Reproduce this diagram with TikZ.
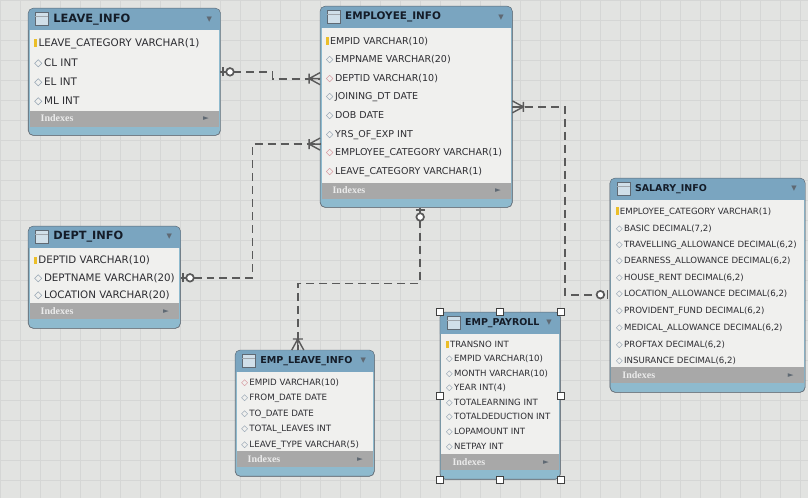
\documentclass[tikz,border=0pt]{standalone}
\usepackage{fontspec}
\setmainfont{DejaVu Sans}
\newfontfamily\idxfont{Liberation Serif}
\usepackage{tikz}
\usetikzlibrary{calc,positioning}

\definecolor{bggray}{RGB}{226,227,225}
\definecolor{gridgray}{RGB}{213,214,213}
\definecolor{headblue}{RGB}{122,165,192}
\definecolor{bandblue}{RGB}{142,186,206}
\definecolor{idxgray}{RGB}{168,168,168}
\definecolor{bodywhite}{RGB}{240,240,238}
\definecolor{framegray}{RGB}{95,105,115}
\definecolor{textdark}{RGB}{45,45,50}
\definecolor{titledark}{RGB}{20,28,40}
\definecolor{diamblue}{RGB}{120,140,160}
\definecolor{fkpink}{RGB}{205,120,130}
\definecolor{keyyellow}{RGB}{235,190,40}
\definecolor{relgray}{RGB}{90,90,90}

\newcommand{\keyicon}{\textcolor{keyyellow}{\rule[-0.5pt]{2.4pt}{7.5pt}}}
\newcommand{\colicon}{\textcolor{diamblue}{◇}}
\newcommand{\fkicon}{\textcolor{fkpink}{◇}}

\tikzset{
    tabframe/.style={
        draw=framegray, fill=bandblue, rectangle, rounded corners=5pt,
        inner sep=0pt
    },
    tabrow/.style={text=textdark, inner sep=1pt},
    tabtitle/.style={text=titledark, inner sep=1pt},
    relline/.style={relgray, line width=1.7pt, dash pattern=on 8pt off 5pt},
    handle/.style={draw=black!75, fill=white, minimum size=7pt, inner sep=0pt},
    onemark/.pic={
        \draw[relgray, line width=1.7pt] (2.5,-4.5) -- (2.5,4.5);
        \draw[relgray, line width=1.7pt, fill=white] (9.5,0) circle (3.8);
    },
    manymark/.pic={
        \draw[relgray, line width=1.4pt]
            (0,6) -- (11,0) -- (0,-6)
            (0,0) -- (11,0)
            (11,-5) -- (11,5);
    }
}

% #1 name, #2 x, #3 y, #4 width, #5 height, #6 row step, #7 font size, #8 title, #9 columns
\newcommand{\ertable}[9]{%
  \pgfmathsetmacro\titlesize{#7*1.1}
  \node[tabframe, minimum width=#4pt, minimum height=#5pt, anchor=north west]
    (#1) at (#2,-#3) {};
  \fill[headblue] ([yshift=-22pt]#1.north west) [rounded corners=5pt]
    -- (#1.north west) -- (#1.north east) [sharp corners]
    -- ([yshift=-22pt]#1.north east) -- cycle;
  \fill[bodywhite] ([xshift=1.5pt,yshift=-22pt]#1.north west)
    rectangle ([xshift=-1.5pt,yshift=25pt]#1.south east);
  \fill[idxgray] ([xshift=1.5pt,yshift=25pt]#1.south west)
    rectangle ([xshift=-1.5pt,yshift=9pt]#1.south east);
  \draw[framegray, rounded corners=5pt] (#1.north west) rectangle (#1.south east);
  \draw[draw=framegray, fill=headblue!35!white] ([xshift=7pt,yshift=-4.5pt]#1.north west)
    rectangle ++(13,-13);
  \draw[framegray!60] ([xshift=7pt,yshift=-8.5pt]#1.north west) -- ++(13,0);
  \node[tabtitle, font=\bfseries\fontsize{\titlesize pt}{\titlesize pt}\selectfont, anchor=west]
    (#1-t) at ([xshift=24pt,yshift=-11pt]#1.north west) {#8};
  \node[text=framegray, font=\fontsize{7pt}{7pt}\selectfont, anchor=east]
    at ([xshift=-5pt,yshift=-11pt]#1.north east) {▼};
  \foreach \ic/\txt [count=\i] in {#9}
    \node[tabrow, font=\fontsize{#7pt}{#7pt}\selectfont, anchor=west]
      (#1-\i) at ([xshift=5pt,yshift={-22-(\i-0.3)*#6}]#1.north west) {\ic\,\txt};
  \node[text=white!92!black, font=\idxfont\bfseries\fontsize{10pt}{10pt}\selectfont, anchor=west]
    at ([xshift=9pt,yshift=17pt]#1.south west) {Indexes};
  \node[text=framegray, font=\fontsize{7.5pt}{7.5pt}\selectfont, anchor=east]
    at ([xshift=-8pt,yshift=17pt]#1.south east) {►};
}

\begin{document}
\begin{tikzpicture}[x=1pt, y=1pt]

\fill[bggray] (0,0) rectangle (808,-498);
\draw[gridgray, step=20pt] (0,0) grid (808,-498);
\useasboundingbox (0,0) rectangle (808,-498);

\ertable{leave}{28}{8}{192}{127}{19.3}{10.4}{LEAVE\_INFO}
  {\keyicon/LEAVE\_CATEGORY VARCHAR(1), \colicon/CL INT, \colicon/EL INT, \colicon/ML INT}

\ertable{emp}{320}{6}{192}{201}{18.7}{9.5}{EMPLOYEE\_INFO}
  {\keyicon/EMPID VARCHAR(10), \colicon/EMPNAME VARCHAR(20), \fkicon/DEPTID VARCHAR(10),
   \colicon/JOINING\_DT DATE, \colicon/DOB DATE, \colicon/YRS\_OF\_EXP INT,
   \fkicon/EMPLOYEE\_CATEGORY VARCHAR(1), \fkicon/LEAVE\_CATEGORY VARCHAR(1)}

\ertable{salary}{610}{178}{195}{214}{16.6}{8.6}{SALARY\_INFO}
  {\keyicon/EMPLOYEE\_CATEGORY VARCHAR(1), \colicon/{BASIC DECIMAL(7,2)},
   \colicon/{TRAVELLING\_ALLOWANCE DECIMAL(6,2)}, \colicon/{DEARNESS\_ALLOWANCE DECIMAL(6,2)},
   \colicon/{HOUSE\_RENT DECIMAL(6,2)}, \colicon/{LOCATION\_ALLOWANCE DECIMAL(6,2)},
   \colicon/{PROVIDENT\_FUND DECIMAL(6,2)}, \colicon/{MEDICAL\_ALLOWANCE DECIMAL(6,2)},
   \colicon/{PROFTAX DECIMAL(6,2)}, \colicon/{INSURANCE DECIMAL(6,2)}}

\ertable{dept}{28}{226}{152}{102}{17.5}{10.3}{DEPT\_INFO}
  {\keyicon/DEPTID VARCHAR(10), \colicon/DEPTNAME VARCHAR(20), \colicon/LOCATION VARCHAR(20)}

\ertable{empleave}{235}{350}{139}{126}{15.5}{8.7}{EMP\_LEAVE\_INFO}
  {\fkicon/EMPID VARCHAR(10), \colicon/FROM\_DATE DATE, \colicon/TO\_DATE DATE,
   \colicon/TOTAL\_LEAVES INT, \colicon/LEAVE\_TYPE VARCHAR(5)}

\ertable{payroll}{440}{312}{120}{167}{14.6}{8.6}{EMP\_PAYROLL}
  {\keyicon/TRANSNO INT, \colicon/EMPID VARCHAR(10), \colicon/MONTH VARCHAR(10),
   \colicon/YEAR INT(4), \colicon/TOTALEARNING INT, \colicon/TOTALDEDUCTION INT,
   \colicon/LOPAMOUNT INT, \colicon/NETPAY INT}

\foreach \a in {north west, north, north east, west, east, south west, south, south east}
  \node[handle] at (payroll.\a) {};

% relationships
\coordinate (e67) at ($(emp-6)!0.5!(emp-7)$);

\draw[relline] (leave.east) -- ++(52,0) |- (emp-3 -| emp.west);
\pic at (leave.east) {onemark};
\pic[rotate=180] at (emp-3 -| emp.west) {manymark};

\draw[relline] (dept-2 -| dept.east) -- ++(72,0) |- (e67 -| emp.west);
\pic at (dept-2 -| dept.east) {onemark};
\pic[rotate=180] at (e67 -| emp.west) {manymark};

\draw[relline] ([xshift=4pt]emp.south) -- ++(0,-76) -| ([xshift=-7pt]empleave.north);
\pic[rotate=-90] at ([xshift=4pt]emp.south) {onemark};
\pic[rotate=90] at ([xshift=-7pt]empleave.north) {manymark};

\draw[relline] (emp.east) -- ++(53,0) |- (salary-6 -| salary.west);
\pic at (emp.east) {manymark};
\pic[rotate=180] at (salary-6 -| salary.west) {onemark};

\end{tikzpicture}
\end{document}
